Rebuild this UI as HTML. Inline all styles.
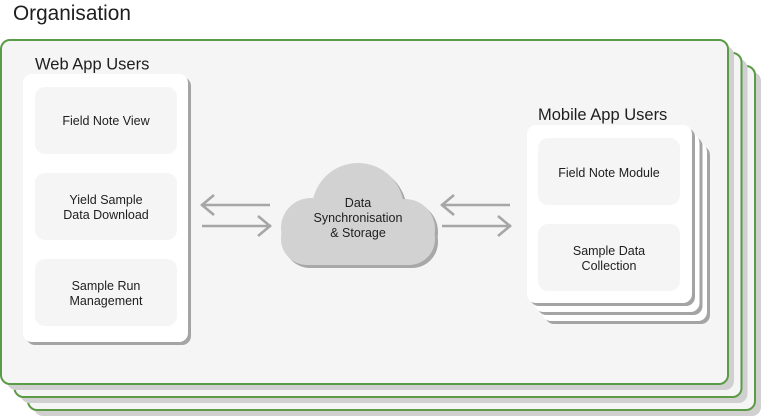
<!DOCTYPE html>
<html>
<head>
<meta charset="utf-8">
<style>
  html, body { margin: 0; padding: 0; background: #ffffff; }
  svg { display: block; }
  text { font-family: "Liberation Sans", "DejaVu Sans", sans-serif; fill: #1e1e1e; }
</style>
</head>
<body>
<svg width="763" height="417" viewBox="0 0 763 417" xmlns="http://www.w3.org/2000/svg">
  <!-- Organisation stacked boxes (back to front) -->
  <rect x="34" y="72" width="727" height="344" rx="9" fill="#d0d0d0"/>
  <rect x="28" y="66" width="727" height="344" rx="9" fill="#f5f5f5" stroke="#5c9b46" stroke-width="2"/>
  <rect x="20.5" y="59" width="727" height="344" rx="9" fill="#d0d0d0"/>
  <rect x="14.5" y="53" width="727" height="344" rx="9" fill="#f5f5f5" stroke="#5c9b46" stroke-width="2"/>
  <rect x="7" y="46" width="727" height="344" rx="9" fill="#d0d0d0"/>
  <rect x="1" y="40" width="727" height="344" rx="9" fill="#f5f5f5" stroke="#5c9b46" stroke-width="2"/>

  <text x="13" y="20" font-size="20.8">Organisation</text>

  <!-- Web App Users -->
  <text x="35" y="69.5" font-size="16.5">Web App Users</text>
  <rect x="26" y="77" width="165" height="268" rx="9" fill="#a4a4a4"/>
  <rect x="23" y="74" width="165" height="268" rx="9" fill="#ffffff"/>
  <rect x="35" y="87" width="142" height="67" rx="10" fill="#f5f5f5"/>
  <rect x="35" y="173" width="142" height="67" rx="10" fill="#f5f5f5"/>
  <rect x="35" y="259" width="142" height="67" rx="10" fill="#f5f5f5"/>
  <g font-size="12.5" text-anchor="middle">
    <text x="106" y="125">Field Note View</text>
    <text x="106" y="204">Yield Sample</text>
    <text x="106" y="219">Data Download</text>
    <text x="106" y="290">Sample Run</text>
    <text x="106" y="305">Management</text>
  </g>

  <!-- Mobile App Users -->
  <text x="538" y="120" font-size="16.5">Mobile App Users</text>
  <rect x="545" y="146" width="165" height="178" rx="9" fill="#a4a4a4"/>
  <rect x="542" y="143" width="165" height="178" rx="9" fill="#ffffff"/>
  <rect x="537.5" y="137" width="165" height="178" rx="9" fill="#a4a4a4"/>
  <rect x="534.5" y="134" width="165" height="178" rx="9" fill="#ffffff"/>
  <rect x="530" y="128" width="165" height="178" rx="9" fill="#a4a4a4"/>
  <rect x="527" y="125" width="165" height="178" rx="9" fill="#ffffff"/>
  <rect x="538" y="138" width="142" height="67" rx="10" fill="#f5f5f5"/>
  <rect x="538" y="224" width="142" height="67" rx="10" fill="#f5f5f5"/>
  <g font-size="12.5" text-anchor="middle">
    <text x="609" y="177">Field Note Module</text>
    <text x="609" y="255">Sample Data</text>
    <text x="609" y="270">Collection</text>
  </g>

  <!-- Cloud -->
  <g transform="translate(3,3)" fill="#a8a8a8">
    <circle cx="358" cy="209" r="46"/>
    <circle cx="311" cy="228" r="30"/>
    <circle cx="405" cy="229" r="30"/>
    <rect x="281" y="212" width="154" height="53" rx="26"/>
  </g>
  <g fill="#d2d2d2">
    <circle cx="358" cy="209" r="46"/>
    <circle cx="311" cy="228" r="30"/>
    <circle cx="405" cy="229" r="30"/>
    <rect x="281" y="212" width="154" height="53" rx="26"/>
  </g>
  <g font-size="12.5" text-anchor="middle">
    <text x="358" y="207">Data</text>
    <text x="358" y="222">Synchronisation</text>
    <text x="358" y="237">&amp; Storage</text>
  </g>

  <!-- Arrows -->
  <g stroke="#a6a6a6" stroke-width="2.6" fill="none" stroke-linecap="butt" stroke-linejoin="miter">
    <!-- left pair -->
    <line x1="201" y1="205" x2="270" y2="205"/>
    <polyline points="214,195 202,205 214,215"/>
    <line x1="202" y1="226" x2="271" y2="226"/>
    <polyline points="258,216 270,226 258,236"/>
    <!-- right pair -->
    <line x1="441" y1="205" x2="510" y2="205"/>
    <polyline points="454,195 442,205 454,215"/>
    <line x1="442" y1="226" x2="511" y2="226"/>
    <polyline points="498,216 510,226 498,236"/>
  </g>
</svg>
</body>
</html>
